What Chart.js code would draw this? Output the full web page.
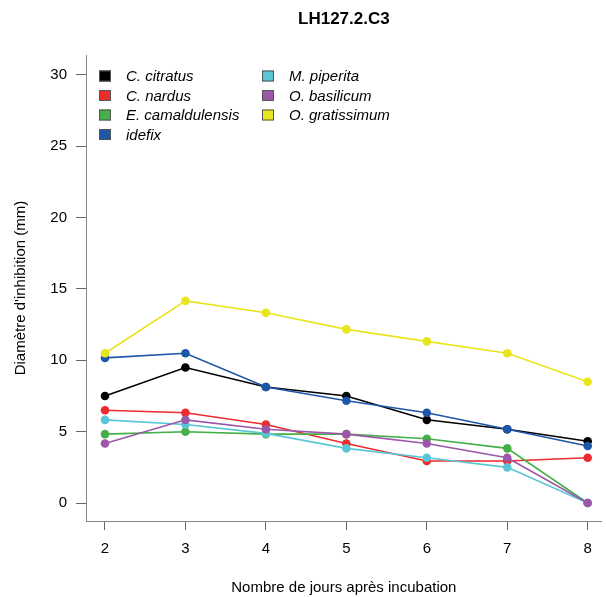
<!DOCTYPE html>
<html>
<head>
<meta charset="utf-8">
<script src="https://cdn.jsdelivr.net/npm/chart.js@4"></script>
<style>
  html, body { margin: 0; padding: 0; background: #fff; }
  #wrap { width: 606px; height: 597px; }
</style>
</head>
<body>
<div id="wrap"><canvas id="lhChart"></canvas></div>
<script>
// jours apres incubation
var days = [2, 3, 4, 5, 6, 7, 8];
var yTicks = [0, 5, 10, 15, 20, 25, 30];

// diametre d'inhibition (mm) par huile
var cCitratus = [7.5, 9.5, 8.13, 7.5, 5.83, 5.17, 4.33];
var cNardus = [6.5, 6.33, 5.5, 4.17, 2.94, 2.94, 3.17];
var eCamaldulensis = [4.83, 5.0, 4.83, 4.83, 4.5, 3.83, 0];
var idefix = [10.17, 10.5, 8.13, 7.17, 6.33, 5.17, 4.0];
var mPiperita = [5.83, 5.5, 4.88, 3.83, 3.17, 2.5, 0];
var oBasilicum = [4.17, 5.83, 5.17, 4.83, 4.17, 3.17, 0];
var oGratissimum = [10.5, 14.17, 13.33, 12.17, 11.33, 10.5, 8.5];

var names = ['C. citratus', 'C. nardus', 'E. camaldulensis', 'idefix', 'M. piperita', 'O. basilicum', 'O. gratissimum'];
var series = [cCitratus, cNardus, eCamaldulensis, idefix, mPiperita, oBasilicum, oGratissimum];
var colors = ['#000000', '#EE2B2E', '#45B049', '#1E56A8', '#58C6D6', '#9B57A8', '#E9E51D'];

var datasets = series.map(function (vals, i) {
    return {
        label: names[i],
        data: vals.map(function (v, j) { return { x: days[j], y: v }; }),
        borderColor: colors[i],
        backgroundColor: colors[i],
        borderWidth: 1.6,
        pointRadius: 4.3,
        pointBorderWidth: 0,
        pointBackgroundColor: colors[i],
        order: series.length - i
    };
});

// titre + legende dessines a la main (legende en 2 colonnes dans le graphe)
var decor = {
    id: 'decor',
    afterDraw: function (chart) {
        var ctx = chart.ctx;
        var area = chart.chartArea;
        ctx.save();
        ctx.fillStyle = '#000';
        ctx.font = 'bold 17px "Liberation Sans", Arial, sans-serif';
        ctx.textAlign = 'center';
        ctx.textBaseline = 'middle';
        ctx.fillText('LH127.2.C3', (area.left + area.right) / 2, 19);

        ctx.font = 'italic 15px "Liberation Sans", Arial, sans-serif';
        ctx.textAlign = 'left';
        var cols = [{ box: 99, text: 126 }, { box: 262, text: 289 }];
        for (var i = 0; i < names.length; i++) {
            var c = i < 4 ? cols[0] : cols[1];
            var row = i < 4 ? i : i - 4;
            var cy = 76 + row * 19.5;
            ctx.fillStyle = colors[i];
            ctx.fillRect(c.box, cy - 5.5, 12, 11);
            ctx.strokeStyle = '#555';
            ctx.lineWidth = 1;
            ctx.strokeRect(c.box + 0.5, cy - 5, 11, 10);
            ctx.fillStyle = '#000';
            ctx.fillText(names[i], c.text, cy + 1);
        }
        ctx.restore();
    }
};

var ctx = document.getElementById('lhChart').getContext('2d');
var lhChart = new Chart(ctx, {
    type: 'line',
    data: { datasets: datasets },
    options: {
        responsive: true,
        maintainAspectRatio: false,
        animation: false,
        layout: { padding: { top: 55, right: 0, left: 0, bottom: 0 } },
        plugins: {
            legend: { display: false },
            tooltip: { enabled: false }
        },
        scales: {
            x: {
                type: 'linear',
                min: 1.764,
                max: 8.174,
                afterBuildTicks: function (scale) {
                    scale.ticks = days.map(function (d) { return { value: d }; });
                },
                afterFit: function (scale) { scale.height = 76; },
                grid: { drawOnChartArea: false, drawTicks: true, tickLength: 9, color: '#666', tickWidth: 1 },
                border: { display: true, color: '#888', width: 1 },
                ticks: { color: '#000', font: { family: '"Liberation Sans", Arial', size: 15 }, padding: 10, maxRotation: 0 },
                title: {
                    display: true,
                    text: 'Nombre de jours après incubation',
                    color: '#000',
                    font: { family: '"Liberation Sans", Arial', size: 15 },
                    padding: { top: 0, bottom: 0 }
                }
            },
            y: {
                min: -1.26,
                max: 31.4,
                afterBuildTicks: function (scale) {
                    scale.ticks = yTicks.map(function (t) { return { value: t }; });
                },
                afterFit: function (scale) { scale.width = 86; },
                grid: { drawOnChartArea: false, drawTicks: true, tickLength: 10, color: '#666', tickWidth: 1 },
                border: { display: true, color: '#888', width: 1 },
                ticks: { color: '#000', font: { family: '"Liberation Sans", Arial', size: 15 }, padding: 9 },
                title: {
                    display: true,
                    text: "Diamètre d'inhibition (mm)",
                    color: '#000',
                    font: { family: '"Liberation Sans", Arial', size: 15 },
                    padding: { top: 12, bottom: 0 }
                }
            }
        }
    },
    plugins: [decor]
});
</script>
</body>
</html>
